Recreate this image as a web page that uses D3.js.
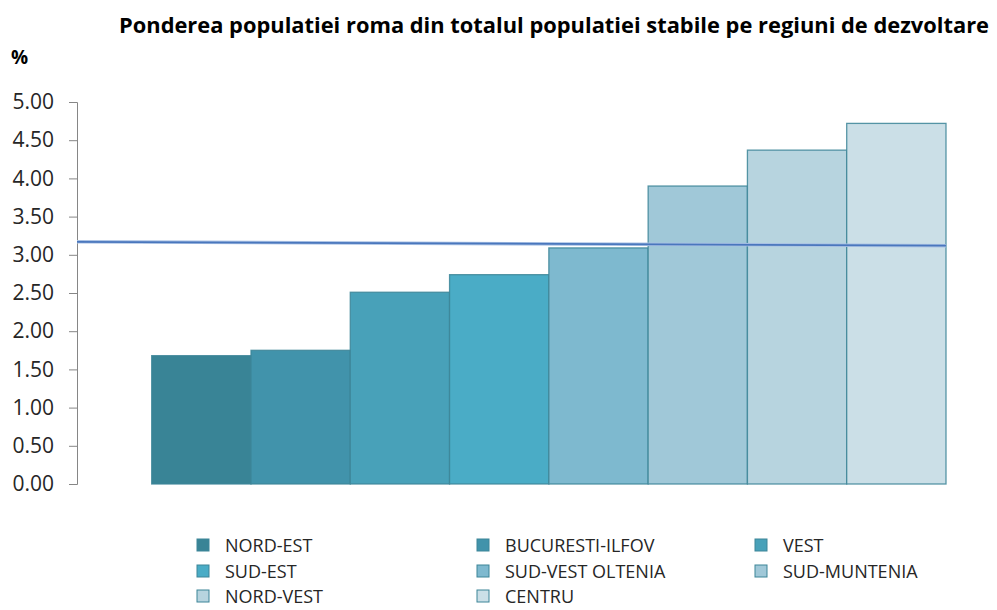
<!DOCTYPE html>
<html>
<head>
<meta charset="utf-8">
<script src="https://cdn.jsdelivr.net/npm/d3@7"></script>
<style>
  body { margin: 0; background: #fff; }
  text { font-family: "Open Sans", "Liberation Sans", sans-serif; }
</style>
</head>
<body>
<svg id="chart" width="997" height="610"></svg>
<script>
// regions, sorted ascending as in the chart
const regions = ["NORD-EST", "BUCURESTI-ILFOV", "VEST", "SUD-EST",
                 "SUD-VEST OLTENIA", "SUD-MUNTENIA", "NORD-VEST", "CENTRU"];
const shares = [1.68, 1.75, 2.51, 2.74, 3.09, 3.90, 4.37, 4.72];
const barColors = ["#398496", "#4193ab", "#48a1b9", "#4aacc6",
                   "#7eb9cf", "#a0c8d8", "#b7d4df", "#cbdfe7"];
// national average line, read at both ends
const avgLine = [3.17, 3.12];
const yTicks = [0, 0.5, 1, 1.5, 2, 2.5, 3, 3.5, 4, 4.5, 5];

const svg = d3.select("#chart");

const y = d3.scaleLinear().domain([0, 5]).range([484, 102]);
const x = d3.scaleBand().domain(regions).range([151.7, 946]).padding(0);

// shrink/grow a text so it spans the given width
function fitWidth(sel, width) {
    const node = sel.node();
    const fs = parseFloat(sel.style("font-size"));
    const w = node.getComputedTextLength();
    sel.style("font-size", (fs * width / w).toFixed(2) + "px");
}

// Title
const title = svg.append("text")
    .attr("x", 554).attr("y", 33)
    .attr("text-anchor", "middle")
    .style("font-size", "18px")
    .style("font-weight", "bold")
    .attr("fill", "#000")
    .text("Ponderea populatiei roma din totalul populatiei stabile pe regiuni de dezvoltare");
fitWidth(title, 870);

svg.append("text")
    .attr("x", 11).attr("y", 64)
    .style("font-size", "19px")
    .style("font-weight", "bold")
    .text("%");

// Y axis
const yAxis = svg.append("g")
    .attr("transform", "translate(77,0)")
    .call(d3.axisLeft(y).tickValues(yTicks).tickFormat(d3.format(".2f")).tickSize(8).tickPadding(15));
yAxis.select(".domain").attr("stroke", "#868686");
yAxis.selectAll(".tick line").attr("stroke", "#868686");
yAxis.selectAll(".tick text")
    .attr("fill", "#262626")
    .style("font-size", "21px")
    .style("font-family", "'Open Sans', sans-serif");

// Bars
svg.selectAll(".bar")
    .data(regions)
    .enter()
    .append("rect")
    .attr("class", "bar")
    .attr("x", d => x(d))
    .attr("y", (d, i) => y(shares[i]))
    .attr("width", x.bandwidth())
    .attr("height", (d, i) => y(0) - y(shares[i]))
    .attr("fill", (d, i) => barColors[i])
    .attr("stroke", "#3c8598")
    .attr("stroke-opacity", 0.85)
    .attr("stroke-width", 1.3);

// Average line
const lineX = [77, 946];
svg.append("line")
    .attr("x1", lineX[0]).attr("x2", lineX[1])
    .attr("y1", y(avgLine[0])).attr("y2", y(avgLine[1]))
    .attr("stroke", "#a9c1e4")
    .attr("stroke-width", 3.5);
svg.append("line")
    .attr("x1", lineX[0]).attr("x2", lineX[1])
    .attr("y1", y(avgLine[0])).attr("y2", y(avgLine[1]))
    .attr("stroke", "#4a77bd")
    .attr("stroke-width", 1.8);

// Legend
const colX = [197, 477, 755];
const rowY = [545, 571, 596];
const legend = svg.selectAll(".legend")
    .data(regions)
    .enter()
    .append("g")
    .attr("class", "legend")
    .attr("transform", (d, i) => `translate(${colX[i % 3]},${rowY[Math.floor(i / 3)]})`);

legend.append("rect")
    .attr("x", 0).attr("y", -6)
    .attr("width", 12).attr("height", 12)
    .attr("fill", (d, i) => barColors[i])
    .attr("stroke", "#3c8598")
    .attr("stroke-width", 1);

legend.append("text")
    .attr("x", 28).attr("y", 0)
    .attr("dominant-baseline", "central")
    .style("font-size", "18px")
    .attr("fill", "#262626")
    .text(d => d);
</script>
</body>
</html>
